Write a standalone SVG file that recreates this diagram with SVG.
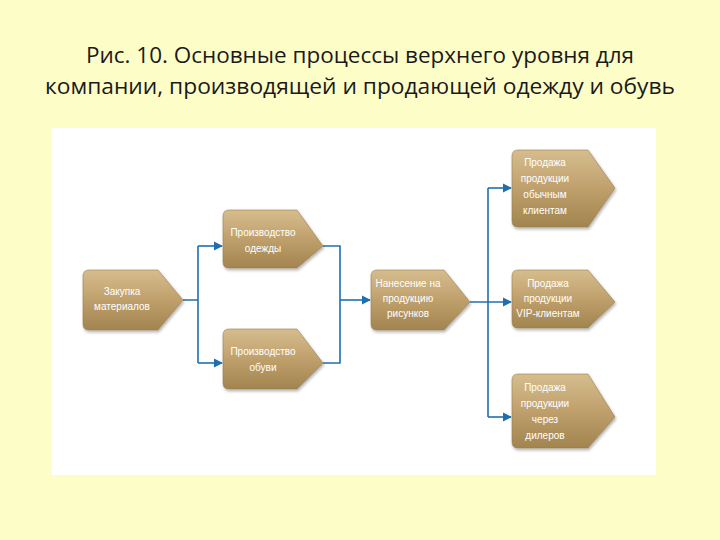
<svg xmlns="http://www.w3.org/2000/svg" width="720" height="540" viewBox="0 0 720 540">
<style>
.title{font-family:"Open Sans","Liberation Sans",sans-serif;font-size:22px;fill:#1a1a1a;text-anchor:middle}
.lbl{font-family:"Liberation Sans","DejaVu Sans",sans-serif;font-size:10px;fill:#ffffff;text-anchor:middle}
.node{fill:url(#gold);stroke:#9a7d4c;stroke-width:0.6;filter:url(#sh)}
.conn{fill:none;stroke:#1f6fb0;stroke-width:1.6}
</style>
<defs>
<linearGradient id="gold" x1="0" y1="0" x2="0" y2="1">
<stop offset="0" stop-color="#d6bd8e"/>
<stop offset="0.5" stop-color="#bfa06c"/>
<stop offset="1" stop-color="#a2844f"/>
</linearGradient>
<filter id="sh" x="-10%" y="-10%" width="130%" height="140%">
<feDropShadow dx="1" dy="2" stdDeviation="1.5" flood-color="#000" flood-opacity="0.3"/>
</filter>
<marker id="arr" viewBox="0 0 10 10" refX="9" refY="5" markerWidth="9" markerHeight="11" markerUnits="userSpaceOnUse" orient="auto">
<path d="M0,0 L10,5 L0,10 Z" fill="#1f6fb0"/>
</marker>
</defs>
<rect x="0" y="0" width="720" height="540" fill="#fdfdc8"/>
<rect x="52" y="128" width="604" height="347" fill="#ffffff"/>
<text class="title" x="360" y="63" textLength="548" lengthAdjust="spacingAndGlyphs">Рис. 10. Основные процессы верхнего уровня для</text>
<text class="title" x="360" y="94" textLength="630" lengthAdjust="spacingAndGlyphs">компании, производящей и продающей одежду и обувь</text>
<g id="connectors">
<path class="conn" d="M183,300 H198 M198,246 V363"/>
<path class="conn" d="M198,246 H222" marker-end="url(#arr)"/>
<path class="conn" d="M198,363 H222" marker-end="url(#arr)"/>
<path class="conn" d="M323,246 H340 V363 H323"/>
<path class="conn" d="M340,300 H370" marker-end="url(#arr)"/>
<path class="conn" d="M470,302 H511" marker-end="url(#arr)"/>
<path class="conn" d="M488,188 V417"/>
<path class="conn" d="M488,188 H511" marker-end="url(#arr)"/>
<path class="conn" d="M488,417 H511" marker-end="url(#arr)"/>
</g>
<g id="n1">
<path class="node" d="M89,270 H158 L183,300 L158,330 H89 Q83,330 83,324 V276 Q83,270 89,270 Z"/>
<text class="lbl" x="122" y="295">Закупка</text>
<text class="lbl" x="122" y="310">материалов</text>
</g>
<g id="n2">
<path class="node" d="M229,210 H297 L323,246 L297,268 H229 Q223,268 223,262 V216 Q223,210 229,210 Z"/>
<text class="lbl" x="263" y="236">Производство</text>
<text class="lbl" x="263" y="252">одежды</text>
</g>
<g id="n3">
<path class="node" d="M229,329 H297 L323,363 L297,389 H229 Q223,389 223,383 V335 Q223,329 229,329 Z"/>
<text class="lbl" x="263" y="355">Производство</text>
<text class="lbl" x="263" y="371">обуви</text>
</g>
<g id="n4">
<path class="node" d="M377,270 H444 L470,302 L444,330 H377 Q371,330 371,324 V276 Q371,270 377,270 Z"/>
<text class="lbl" x="408" y="287">Нанесение на</text>
<text class="lbl" x="408" y="302">продукцию</text>
<text class="lbl" x="408" y="317">рисунков</text>
</g>
<g id="n5">
<path class="node" d="M518,150 H588 L615,188 L588,227 H518 Q512,227 512,221 V156 Q512,150 518,150 Z"/>
<text class="lbl" x="545" y="166">Продажа</text>
<text class="lbl" x="545" y="182">продукции</text>
<text class="lbl" x="545" y="198">обычным</text>
<text class="lbl" x="545" y="214">клиентам</text>
</g>
<g id="n6">
<path class="node" d="M518,270 H588 L615,302 L588,328 H518 Q512,328 512,322 V276 Q512,270 518,270 Z"/>
<text class="lbl" x="548" y="287">Продажа</text>
<text class="lbl" x="548" y="302">продукции</text>
<text class="lbl" x="548" y="317">VIP-клиентам</text>
</g>
<g id="n7">
<path class="node" d="M518,374 H588 L615,417 L588,448 H518 Q512,448 512,442 V380 Q512,374 518,374 Z"/>
<text class="lbl" x="545" y="391">Продажа</text>
<text class="lbl" x="545" y="407">продукции</text>
<text class="lbl" x="545" y="423">через</text>
<text class="lbl" x="545" y="439">дилеров</text>
</g>
</svg>
